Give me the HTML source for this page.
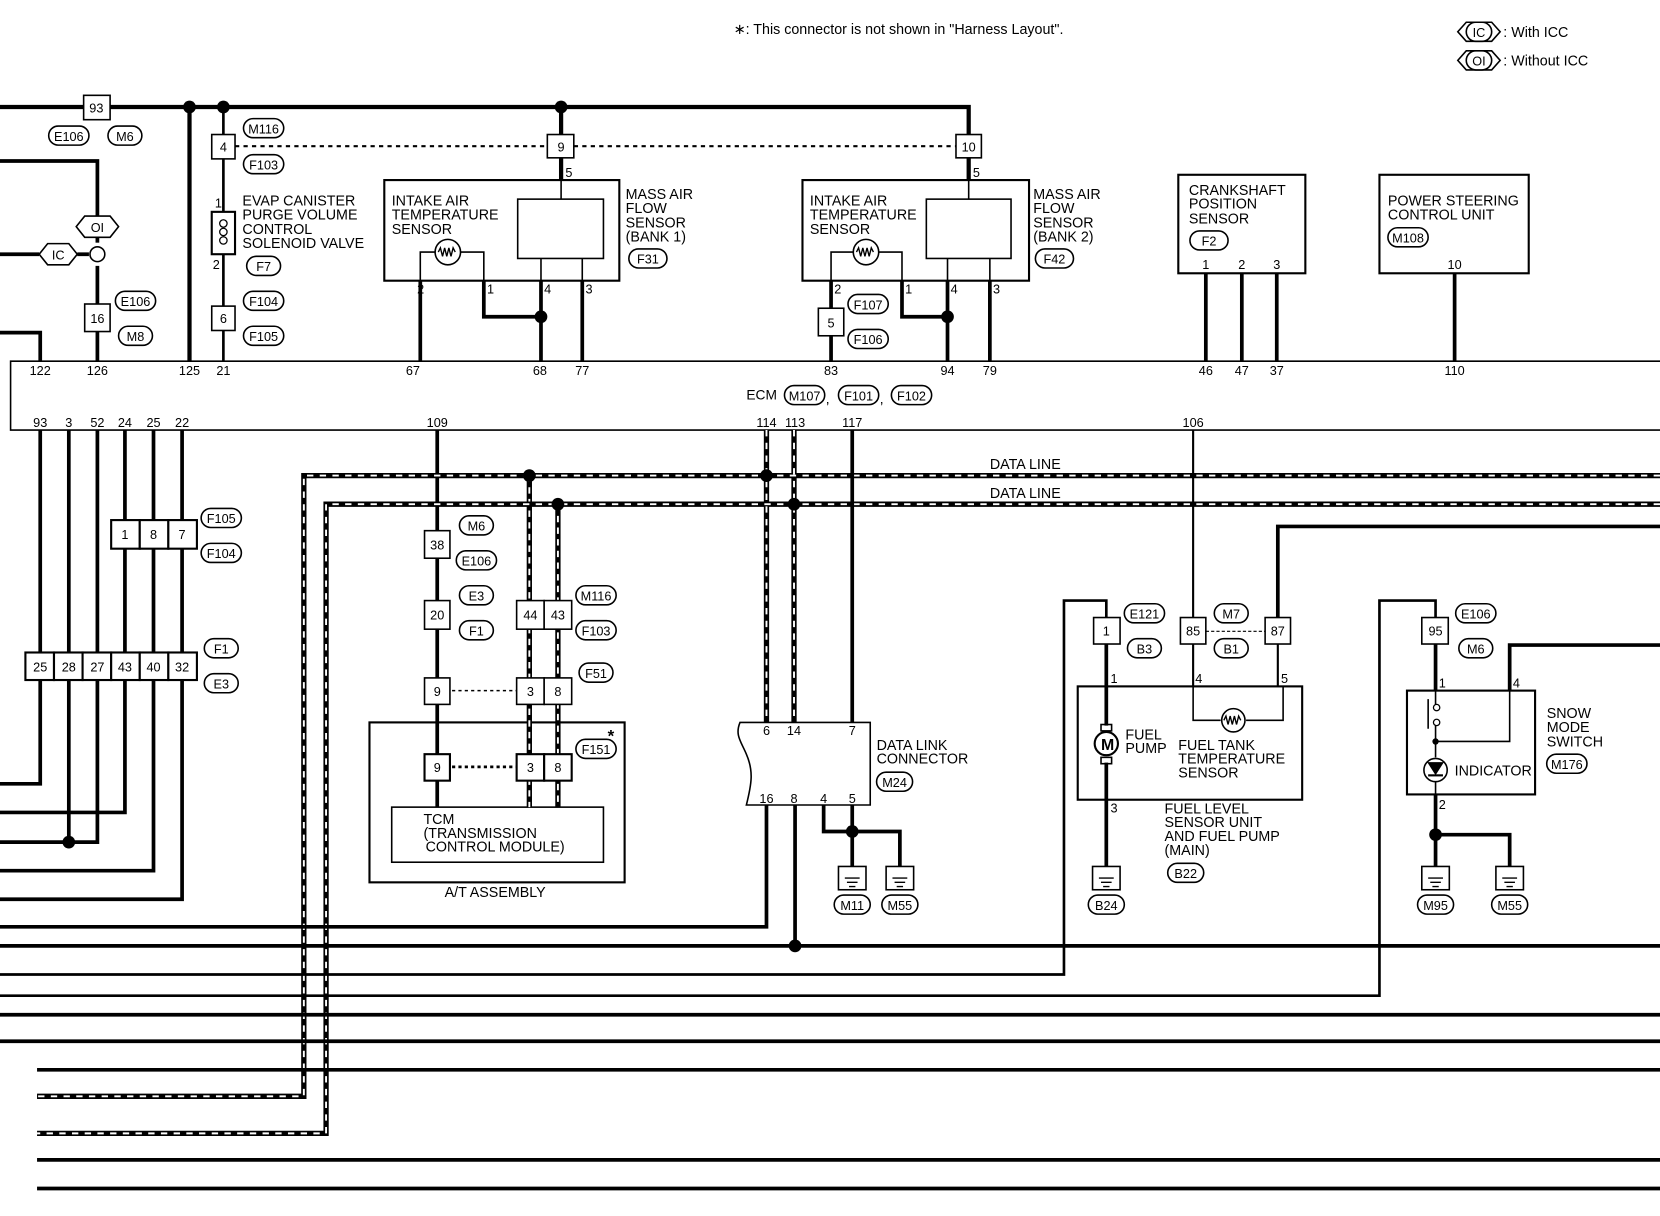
<!DOCTYPE html>
<html><head><meta charset="utf-8"><style>
html,body{margin:0;padding:0;background:#fff}
svg{display:block}
text{font-family:"Liberation Sans",sans-serif;fill:#000}
</style></head><body>
<svg width="1660" height="1216" viewBox="0 0 1568 1148" preserveAspectRatio="none" xmlns="http://www.w3.org/2000/svg">
<g fill="none" stroke="#000" stroke-linejoin="miter">
<!-- top bus -->
<path d="M0 101H79M104 101H915V127" stroke-width="4"/>
<rect x="79" y="90" width="25" height="23" stroke-width="1.5"/>
<!-- left feeds -->
<path d="M0 152H92V229M92 251V287M92 313V341" stroke-width="3.5"/>
<path d="M0 240H37M73 240H84" stroke-width="3.5"/>
<circle cx="92" cy="240" r="7" fill="#fff" stroke-width="1.5"/>
<path d="M0 314H38V341" stroke-width="3.5"/>
<rect x="80" y="287" width="24" height="26" stroke-width="1.5"/>
<path d="M179 101V341" stroke-width="4"/>
<path d="M211 101V127M211 150V200M211 240V289M211 312V341" stroke-width="2.5"/>
<rect x="200" y="127" width="22" height="23" stroke-width="1.5"/>
<rect x="200" y="200" width="22" height="40" stroke-width="2"/>
<rect x="200" y="289" width="22" height="23" stroke-width="1.5"/>
<path d="M222 138H517M542 138H903" stroke-width="2" stroke-dasharray="4 4"/>
<!-- MAF bank1 -->
<path d="M530 101V127M530 149V170" stroke-width="4"/>
<rect x="517" y="127" width="25" height="22" stroke-width="1.5"/>
<rect x="363" y="170" width="222" height="95" stroke-width="2"/>
<rect x="489" y="188" width="81" height="56" stroke-width="1.5"/>
<path d="M530 170V188M511 244V265M550 244V265M397 265V238H411M435 238H457V265" stroke-width="1.5"/>
<circle cx="423" cy="238" r="12" stroke-width="1.5"/>
<path d="M397 265V341M457 265V299H511M511 265V341M550 265V341" stroke-width="3.5"/>
<!-- MAF bank2 -->
<path d="M915 149V170" stroke-width="4"/>
<rect x="903" y="127" width="24" height="22" stroke-width="1.5"/>
<rect x="758" y="170" width="214" height="95" stroke-width="2"/>
<rect x="875" y="188" width="80" height="56" stroke-width="1.5"/>
<path d="M915 170V188M895 244V265M935 244V265M785 265V238H806M830 238H852V265" stroke-width="1.5"/>
<circle cx="818" cy="238" r="12" stroke-width="1.5"/>
<path d="M785 265V291M785 317V341M852 265V299H895M895 265V341M935 265V341" stroke-width="3.5"/>
<rect x="773" y="291" width="24" height="26" stroke-width="1.5"/>
<!-- CKP, PS -->
<rect x="1113" y="165" width="120" height="93" stroke-width="2"/>
<rect x="1303" y="165" width="141" height="93" stroke-width="2"/>
<path d="M1139 258V341M1173 258V341M1206 258V341M1374 258V341" stroke-width="3.5"/>
<!-- ECM box -->
<path d="M1568 341H10V406H1568" stroke-width="1.5"/>
<!-- left bottom pins -->
<path d="M38 406V740H0M65 406V795M92 406V795H0M118 406V767H0M145 406V822H0M172 406V849H0" stroke-width="3.5"/>
<rect x="105" y="491" width="27" height="27" fill="#fff" stroke-width="2"/>
<rect x="132" y="491" width="27" height="27" fill="#fff" stroke-width="2"/>
<rect x="159" y="491" width="27" height="27" fill="#fff" stroke-width="2"/>
<rect x="24" y="616" width="27" height="26" fill="#fff" stroke-width="2"/>
<rect x="51" y="616" width="27" height="26" fill="#fff" stroke-width="2"/>
<rect x="78" y="616" width="27" height="26" fill="#fff" stroke-width="2"/>
<rect x="105" y="616" width="27" height="26" fill="#fff" stroke-width="2"/>
<rect x="132" y="616" width="27" height="26" fill="#fff" stroke-width="2"/>
<rect x="159" y="616" width="27" height="26" fill="#fff" stroke-width="2"/>
<!-- TCM -->
<path d="M413 406V762" stroke-width="3.5"/>
<rect x="401" y="501" width="24" height="26" fill="#fff" stroke-width="1.5"/>
<rect x="401" y="567" width="24" height="27" fill="#fff" stroke-width="1.5"/>
<rect x="401" y="640" width="24" height="25" fill="#fff" stroke-width="1.5"/>
<rect x="349" y="682" width="241" height="151" stroke-width="2"/>
<rect x="401" y="712" width="24" height="25" fill="#fff" stroke-width="2"/>
<rect x="370" y="762" width="200" height="52" stroke-width="1.5"/>
<path d="M500 449V762M527 476V762" stroke-width="5"/>
<path d="M500 449V762M527 476V762" stroke="#fff" stroke-width="1.8" stroke-dasharray="6 5"/>
<rect x="488" y="567" width="26" height="27" fill="#fff" stroke-width="1.5"/>
<rect x="514" y="567" width="26" height="27" fill="#fff" stroke-width="1.5"/>
<rect x="488" y="640" width="26" height="25" fill="#fff" stroke-width="1.5"/>
<rect x="514" y="640" width="26" height="25" fill="#fff" stroke-width="1.5"/>
<rect x="488" y="712" width="26" height="25" fill="#fff" stroke-width="2"/>
<rect x="514" y="712" width="26" height="25" fill="#fff" stroke-width="2"/>
<path d="M427 652H488" stroke-width="1.5" stroke-dasharray="3 3"/>
<path d="M427 724H488" stroke-width="2.5" stroke-dasharray="3 3"/>
<!-- data lines -->
<path d="M1568 449H287V1035H35M1568 476H308V1070H35M724 406V682M750 406V682" stroke-width="5"/>
<path d="M1568 449H287V1035H35M1568 476H308V1070H35M724 406V682M750 406V682" stroke="#fff" stroke-width="1.8" stroke-dasharray="6 6"/>
<!-- DLC -->
<path d="M805 406V682" stroke-width="3.5"/>
<path d="M699 682H822V760H705C710 740 712 728 705 712C700 700 694 694 699 682Z" stroke-width="1.5"/>
<path d="M0 875H724V760M751 760V893M778 760V785H850V818M805 760V818" stroke-width="3.5"/>
<rect x="792" y="818" width="26" height="22" stroke-width="1.5"/>
<rect x="837" y="818" width="26" height="22" stroke-width="1.5"/>
<rect x="1032" y="818" width="26" height="22" stroke-width="1.5"/>
<rect x="1343" y="818" width="26" height="22" stroke-width="1.5"/>
<rect x="1413" y="818" width="26" height="22" stroke-width="1.5"/>
<path d="M798 829H812M800 833H810M802 837H808M843 829H857M845 833H855M847 837H853M1038 829H1052M1040 833H1050M1042 837H1048M1349 829H1363M1351 833H1361M1353 837H1359M1419 829H1433M1421 833H1431M1423 837H1429" stroke-width="1.3"/>
<!-- long horizontals -->
<path d="M0 893H1568M0 958H1568M0 983H1568M35 1010H1568M35 1095H1568M35 1122H1568" stroke-width="3.5"/>
<path d="M0 920H1005V567H1045V583M0 940H1303V567H1356V583" stroke-width="2.5"/>
<!-- fuel -->
<path d="M1045 608V685M1045 720V818" stroke-width="3.5"/>
<rect x="1033" y="583" width="25" height="25" fill="#fff" stroke-width="1.5"/>
<rect x="1018" y="648" width="212" height="107" stroke-width="2"/>
<circle cx="1045" cy="702" r="11" stroke-width="2"/>
<rect x="1040" y="684" width="10" height="6" stroke-width="1.5"/>
<rect x="1040" y="715" width="10" height="6" stroke-width="1.5"/>
<path d="M1127 406V583M1127 608V648M1207 608V648" stroke-width="2"/>
<path d="M1207 583V497H1568" stroke-width="3.5"/>
<rect x="1115" y="583" width="24" height="25" fill="#fff" stroke-width="1.5"/>
<rect x="1195" y="583" width="24" height="25" fill="#fff" stroke-width="1.5"/>
<path d="M1139 596H1195" stroke-width="1" stroke-dasharray="3 2"/>
<path d="M1127 648V680H1153M1177 680H1212V648" stroke-width="1.5"/>
<circle cx="1165" cy="680" r="11" stroke-width="1.5"/>
<!-- snow -->
<path d="M1356 608V652M1356 750V818M1356 788H1426V818M1426 652V609H1568" stroke-width="3.5"/>
<rect x="1343" y="583" width="25" height="25" fill="#fff" stroke-width="1.5"/>
<rect x="1329" y="652" width="121" height="98" stroke-width="2"/>
<path d="M1356 652V665M1356 685V715M1356 738V750M1426 652V700H1356M1349 660V688" stroke-width="1.5"/>
<circle cx="1357" cy="668" r="3" fill="#fff" stroke-width="1.2"/>
<circle cx="1357" cy="682" r="3" fill="#fff" stroke-width="1.2"/>
<circle cx="1356" cy="727" r="11" stroke-width="1.5"/>
<path d="M1349 720H1363L1356 731Z" fill="#000" stroke-width="1"/>
<path d="M1349 732H1363" stroke-width="2"/>
<!-- hexes -->
<path d="M37 240L45 230H65L73 240L65 250H45Z" fill="#fff" stroke-width="1.5"/>
<path d="M72 214L80 204H104L112 214L104 224H80Z" fill="#fff" stroke-width="1.5"/>
<path d="M92 224V229" stroke-width="3"/>
<path d="M1377 30L1385 21H1409L1417 30L1409 39H1385Z" stroke-width="1.5"/>
<path d="M1377 57L1385 48H1409L1417 57L1409 66H1385Z" stroke-width="1.5"/>
<!-- solenoid coil -->
<circle cx="211" cy="211" r="3.5" stroke-width="1.2"/>
<circle cx="211" cy="219" r="3.5" stroke-width="1.2"/>
<circle cx="211" cy="227" r="3.5" stroke-width="1.2"/>
</g>
<!-- dots -->
<g fill="#000">
<circle cx="179" cy="101" r="6"/><circle cx="211" cy="101" r="6"/><circle cx="530" cy="101" r="6"/>
<circle cx="511" cy="299" r="6"/><circle cx="895" cy="299" r="6"/>
<circle cx="65" cy="795" r="6"/><circle cx="500" cy="449" r="6"/><circle cx="527" cy="476" r="6"/>
<circle cx="724" cy="449" r="6"/><circle cx="750" cy="476" r="6"/>
<circle cx="805" cy="785" r="6"/><circle cx="751" cy="893" r="6"/><circle cx="1356" cy="788" r="6"/>
<circle cx="1356" cy="700" r="3"/>
</g>
<!-- resistor zigzags -->
<g fill="none" stroke="#000" stroke-width="1.3">
<path d="M414 238l2-4 2 8 2-8 2 8 2-8 2 8 2-8 2 4"/>
<path d="M809 238l2-4 2 8 2-8 2 8 2-8 2 8 2-8 2 4"/>
<path d="M1156 680l2-4 2 8 2-8 2 8 2-8 2 8 2-8 2 4"/>
</g>
<!-- ovals -->
<g fill="#fff" stroke="#000" stroke-width="1.5">
<rect x="46" y="119" width="38" height="18" rx="9"/><rect x="102" y="119" width="32" height="18" rx="9"/>
<rect x="230" y="112" width="38" height="18" rx="9"/><rect x="230" y="146" width="38" height="18" rx="9"/>
<rect x="233" y="242" width="32" height="18" rx="9"/><rect x="230" y="275" width="38" height="18" rx="9"/>
<rect x="230" y="308" width="38" height="18" rx="9"/><rect x="594" y="235" width="36" height="18" rx="9"/>
<rect x="978" y="235" width="36" height="18" rx="9"/><rect x="1124" y="218" width="36" height="18" rx="9"/>
<rect x="1311" y="215" width="38" height="18" rx="9"/><rect x="109" y="275" width="38" height="18" rx="9"/>
<rect x="112" y="308" width="32" height="18" rx="9"/><rect x="801" y="278" width="38" height="18" rx="9"/>
<rect x="801" y="311" width="38" height="18" rx="9"/><rect x="741" y="364" width="38" height="18" rx="9"/>
<rect x="792" y="364" width="38" height="18" rx="9"/><rect x="842" y="364" width="38" height="18" rx="9"/>
<rect x="190" y="480" width="38" height="18" rx="9"/><rect x="190" y="513" width="38" height="18" rx="9"/>
<rect x="193" y="603" width="32" height="18" rx="9"/><rect x="193" y="636" width="32" height="18" rx="9"/>
<rect x="434" y="487" width="32" height="18" rx="9"/><rect x="431" y="520" width="38" height="18" rx="9"/>
<rect x="434" y="553" width="32" height="18" rx="9"/><rect x="434" y="586" width="32" height="18" rx="9"/>
<rect x="544" y="553" width="38" height="18" rx="9"/><rect x="544" y="586" width="38" height="18" rx="9"/>
<rect x="547" y="626" width="32" height="18" rx="9"/><rect x="544" y="698" width="38" height="18" rx="9"/>
<rect x="828" y="729" width="34" height="18" rx="9"/><rect x="788" y="845" width="34" height="18" rx="9"/>
<rect x="833" y="845" width="34" height="18" rx="9"/><rect x="1028" y="845" width="34" height="18" rx="9"/>
<rect x="1103" y="815" width="34" height="18" rx="9"/><rect x="1062" y="570" width="38" height="18" rx="9"/>
<rect x="1065" y="603" width="32" height="18" rx="9"/><rect x="1147" y="570" width="32" height="18" rx="9"/>
<rect x="1147" y="603" width="32" height="18" rx="9"/><rect x="1375" y="570" width="38" height="18" rx="9"/>
<rect x="1378" y="603" width="32" height="18" rx="9"/><rect x="1461" y="712" width="38" height="18" rx="9"/>
<rect x="1339" y="845" width="34" height="18" rx="9"/><rect x="1409" y="845" width="34" height="18" rx="9"/>
<rect x="1385" y="21" width="24" height="18" rx="9"/><rect x="1385" y="48" width="24" height="18" rx="9"/>
</g>
<g font-size="12" text-anchor="middle">
<text x="65" y="133">E106</text><text x="118" y="133">M6</text>
<text x="249" y="126">M116</text><text x="249" y="160">F103</text>
<text x="249" y="256">F7</text><text x="249" y="289">F104</text><text x="249" y="322">F105</text>
<text x="612" y="249">F31</text><text x="996" y="249">F42</text><text x="1142" y="232">F2</text>
<text x="1330" y="229">M108</text><text x="128" y="289">E106</text><text x="128" y="322">M8</text>
<text x="820" y="292">F107</text><text x="820" y="325">F106</text>
<text x="760" y="378">M107</text><text x="811" y="378">F101</text><text x="861" y="378">F102</text>
<text x="209" y="494">F105</text><text x="209" y="527">F104</text><text x="209" y="617">F1</text><text x="209" y="650">E3</text>
<text x="450" y="501">M6</text><text x="450" y="534">E106</text><text x="450" y="567">E3</text><text x="450" y="600">F1</text>
<text x="563" y="567">M116</text><text x="563" y="600">F103</text><text x="563" y="640">F51</text><text x="563" y="712">F151</text>
<text x="845" y="743">M24</text><text x="805" y="859">M11</text><text x="850" y="859">M55</text>
<text x="1045" y="859">B24</text><text x="1120" y="829">B22</text>
<text x="1081" y="584">E121</text><text x="1081" y="617">B3</text><text x="1163" y="584">M7</text><text x="1163" y="617">B1</text>
<text x="1394" y="584">E106</text><text x="1394" y="617">M6</text><text x="1480" y="726">M176</text>
<text x="1356" y="859">M95</text><text x="1426" y="859">M55</text>
<text x="1397" y="35">IC</text><text x="1397" y="62">OI</text>
<text x="55" y="245">IC</text><text x="92" y="219">OI</text>
<!-- box numbers -->
<text x="91" y="106">93</text><text x="211" y="143">4</text><text x="211" y="305">6</text><text x="92" y="305">16</text>
<text x="530" y="143">9</text><text x="915" y="143">10</text><text x="785" y="309">5</text>
<text x="118" y="509">1</text><text x="145" y="509">8</text><text x="172" y="509">7</text>
<text x="38" y="634">25</text><text x="65" y="634">28</text><text x="92" y="634">27</text><text x="118" y="634">43</text><text x="145" y="634">40</text><text x="172" y="634">32</text>
<text x="413" y="519">38</text><text x="413" y="585">20</text><text x="413" y="657">9</text><text x="413" y="729">9</text>
<text x="501" y="585">44</text><text x="527" y="585">43</text><text x="501" y="657">3</text><text x="527" y="657">8</text><text x="501" y="729">3</text><text x="527" y="729">8</text>
<text x="1045" y="600">1</text><text x="1127" y="600">85</text><text x="1207" y="600">87</text><text x="1356" y="600">95</text>
<!-- ECM pins -->
<text x="38" y="354">122</text><text x="92" y="354">126</text><text x="179" y="354">125</text><text x="211" y="354">21</text>
<text x="390" y="354">67</text><text x="510" y="354">68</text><text x="550" y="354">77</text>
<text x="785" y="354">83</text><text x="895" y="354">94</text><text x="935" y="354">79</text>
<text x="1139" y="354">46</text><text x="1173" y="354">47</text><text x="1206" y="354">37</text><text x="1374" y="354">110</text>
<text x="38" y="403">93</text><text x="65" y="403">3</text><text x="92" y="403">52</text><text x="118" y="403">24</text><text x="145" y="403">25</text><text x="172" y="403">22</text>
<text x="413" y="403">109</text><text x="724" y="403">114</text><text x="751" y="403">113</text><text x="805" y="403">117</text><text x="1127" y="403">106</text>
<text x="1139" y="254">1</text><text x="1173" y="254">2</text><text x="1206" y="254">3</text><text x="1374" y="254">10</text>
<text x="724" y="694">6</text><text x="750" y="694">14</text><text x="805" y="694">7</text>
<text x="724" y="758">16</text><text x="750" y="758">8</text><text x="778" y="758">4</text><text x="805" y="758">5</text>
</g>
<g font-size="12">
<text x="203" y="196">1</text><text x="201" y="254">2</text>
<text x="534" y="167">5</text><text x="394" y="277">2</text><text x="460" y="277">1</text><text x="514" y="277">4</text><text x="553" y="277">3</text>
<text x="919" y="167">5</text><text x="788" y="277">2</text><text x="855" y="277">1</text><text x="898" y="277">4</text><text x="938" y="277">3</text>
<text x="1049" y="645">1</text><text x="1129" y="645">4</text><text x="1210" y="645">5</text><text x="1049" y="767">3</text>
<text x="1359" y="649">1</text><text x="1429" y="649">4</text><text x="1359" y="764">2</text>
<text x="705" y="377" font-size="13">ECM</text>
<text x="780" y="381" font-size="13">,</text><text x="831" y="381" font-size="13">,</text>
</g>
<g font-size="13.5">
<text x="229" y="194">EVAP CANISTER</text><text x="229" y="207">PURGE VOLUME</text><text x="229" y="221">CONTROL</text><text x="229" y="234">SOLENOID VALVE</text>
<text x="370" y="194">INTAKE AIR</text><text x="370" y="207">TEMPERATURE</text><text x="370" y="221">SENSOR</text>
<text x="591" y="188">MASS AIR</text><text x="591" y="201">FLOW</text><text x="591" y="215">SENSOR</text><text x="591" y="228">(BANK 1)</text>
<text x="765" y="194">INTAKE AIR</text><text x="765" y="207">TEMPERATURE</text><text x="765" y="221">SENSOR</text>
<text x="976" y="188">MASS AIR</text><text x="976" y="201">FLOW</text><text x="976" y="215">SENSOR</text><text x="976" y="228">(BANK 2)</text>
<text x="1123" y="184">CRANKSHAFT</text><text x="1123" y="197">POSITION</text><text x="1123" y="211">SENSOR</text>
<text x="1311" y="194">POWER STEERING</text><text x="1311" y="207">CONTROL UNIT</text>
<text x="935" y="443">DATA LINE</text><text x="935" y="470">DATA LINE</text>
<text x="400" y="778">TCM</text><text x="400" y="791">(TRANSMISSION</text><text x="402" y="804">CONTROL MODULE)</text>
<text x="420" y="847">A/T ASSEMBLY</text>
<text x="828" y="708">DATA LINK</text><text x="828" y="721">CONNECTOR</text>
<text x="1063" y="698">FUEL</text><text x="1063" y="711">PUMP</text>
<text x="1113" y="708">FUEL TANK</text><text x="1113" y="721">TEMPERATURE</text><text x="1113" y="734">SENSOR</text>
<text x="1100" y="768">FUEL LEVEL</text><text x="1100" y="781">SENSOR UNIT</text><text x="1100" y="794">AND FUEL PUMP</text><text x="1100" y="807">(MAIN)</text>
<text x="1461" y="678">SNOW</text><text x="1461" y="691">MODE</text><text x="1461" y="705">SWITCH</text>
<text x="1374" y="732">INDICATOR</text>
<text x="1420" y="35">: With ICC</text><text x="1420" y="62">: Without ICC</text>
<text x="693" y="32">∗: This connector is not shown in "Harness Layout".</text>
</g>
<text x="1040" y="708" font-size="15" font-weight="bold" text-anchor="start">M</text>
<text x="574" y="700" font-size="16" font-weight="bold">*</text>
</svg>
</body></html>
